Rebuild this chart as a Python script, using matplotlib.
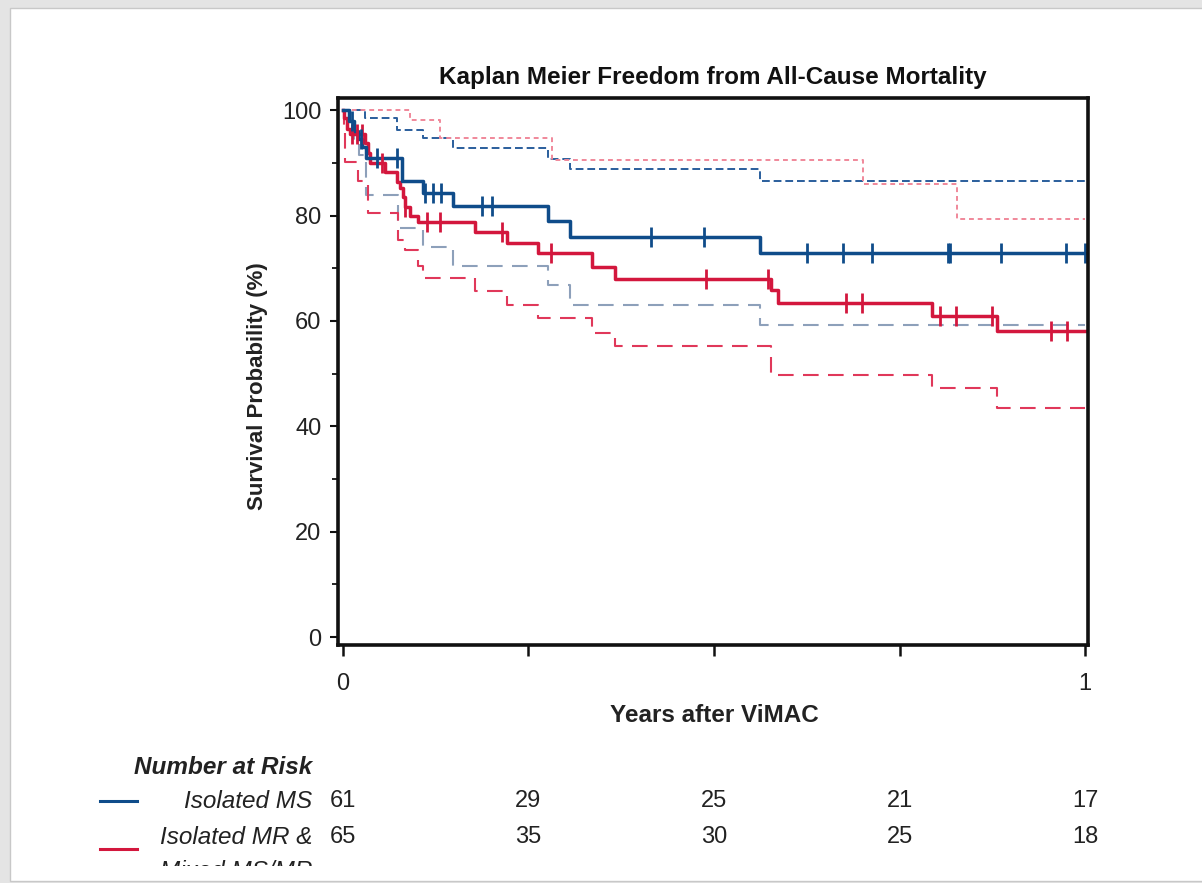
import numpy as np
import matplotlib
matplotlib.use("Agg")
import matplotlib.pyplot as plt
from matplotlib.patches import Rectangle
from matplotlib.transforms import blended_transform_factory

plt.rcParams['font.family'] = ['Liberation Sans', 'DejaVu Sans']

# ---------------- data ----------------
# Isolated MS (blue)
ms_t = [0, 0.008, 0.015, 0.020, 0.026, 0.031, 0.080, 0.108, 0.148, 0.276, 0.306, 0.562, 1.0]
ms_s = [100, 98, 96, 94.5, 93, 91, 86.6, 84.2, 81.8, 79.0, 76.0, 72.9, 72.9]
ms_cens = [0.012, 0.024, 0.046, 0.073, 0.110, 0.121, 0.132, 0.187, 0.201, 0.415, 0.487,
           0.625, 0.674, 0.713, 0.815, 0.818, 0.887, 0.974, 1.0]
ms_up_t = [0, 0.030, 0.073, 0.108, 0.148, 0.276, 0.306, 0.562, 1.0]
ms_up_s = [100, 98.5, 96.2, 94.7, 92.9, 90.8, 88.8, 86.5, 86.5]
ms_lo_t = [0, 0.008, 0.015, 0.022, 0.031, 0.074, 0.108, 0.148, 0.276, 0.306, 0.562, 1.0]
ms_lo_s = [100, 97, 94, 91.5, 83.9, 77.6, 74.0, 70.4, 66.8, 63.1, 59.3, 59.3]

# Isolated MR & Mixed MS/MR (red)
mr_t = [0, 0.001, 0.005, 0.009, 0.030, 0.034, 0.036, 0.057, 0.073, 0.077, 0.081, 0.084,
        0.090, 0.101, 0.178, 0.221, 0.263, 0.336, 0.367, 0.577, 0.586, 0.794, 0.881, 1.0]
mr_s = [100, 98.5, 96.5, 95.5, 93.7, 91.8, 89.9, 88.2, 86.3, 85.2, 83.5, 81.6,
        80.0, 78.8, 76.9, 74.8, 72.8, 70.3, 68.0, 65.8, 63.4, 60.9, 58.0, 58.0]
mr_cens = [0.012, 0.019, 0.026, 0.052, 0.084, 0.113, 0.131, 0.214, 0.280, 0.489, 0.573,
           0.678, 0.699, 0.804, 0.826, 0.875, 0.954, 0.976]
mr_up_t = [0, 0.090, 0.131, 0.282, 0.701, 0.827, 1.0]
mr_up_s = [100, 98.1, 94.8, 90.6, 86.0, 79.3, 79.3]
mr_lo_t = [0, 0.001, 0.003, 0.020, 0.034, 0.074, 0.084, 0.101, 0.108, 0.178, 0.221,
           0.263, 0.336, 0.367, 0.577, 0.794, 0.881, 1.0]
mr_lo_s = [100, 96, 90.2, 86.5, 80.4, 75.3, 73.4, 70.4, 68.2, 65.7, 63.0,
           60.5, 57.8, 55.2, 49.8, 47.2, 43.5, 43.5]

risk_times = [0, 0.25, 0.5, 0.75, 1.0]
risk_ms = [61, 29, 25, 21, 17]
risk_mr = [65, 35, 30, 25, 18]

x_ticks = [0, 0.25, 0.5, 0.75, 1.0]
x_ticklabels = ['0', '', '', '', '1']
y_ticks = [0, 20, 40, 60, 80, 100]

BLUE = '#0f4c8a'
RED = '#d3173d'
BLUE_UP = '#2a5e9c'
BLUE_LO = '#8da0ba'
RED_UP = '#f0889a'
RED_LO = '#e0385a'

W, H = 1202, 883
fig = plt.figure(figsize=(W / 100, H / 100), dpi=100)
fig.patch.set_facecolor('#e4e4e4')


def fx(px):
    return px / W


def fy(py):
    return 1 - py / H


page = Rectangle((fx(10), fy(881)), 1.0, fy(8) - fy(881), transform=fig.transFigure,
                 facecolor='white', edgecolor='#c8c8c8', linewidth=1.0, zorder=-10)
fig.patches.append(page)

ax = fig.add_axes([fx(338), fy(645), fx(1088) - fx(338), fy(98) - fy(645)])
ax.set_facecolor('white')


def step_val(t, s, x):
    i = np.searchsorted(t, x, side='right') - 1
    return np.asarray(s)[i]


# CIs
ax.step(ms_up_t, ms_up_s, where='post', color=BLUE_UP, lw=1.4, ls=(0, (4, 2)))
ax.step(mr_up_t, mr_up_s, where='post', color=RED_UP, lw=1.4, ls=(0, (2.5, 2)))
ax.step(ms_lo_t, ms_lo_s, where='post', color=BLUE_LO, lw=1.5, ls=(0, (7.5, 4.5)))
ax.step(mr_lo_t, mr_lo_s, where='post', color=RED_LO, lw=1.5, ls=(0, (7.5, 4.5)))

# main curves
ax.step(mr_t, mr_s, where='post', color=RED, lw=2.5)
ax.step(ms_t, ms_s, where='post', color=BLUE, lw=2.5)
ax.plot(mr_cens, step_val(mr_t, mr_s, mr_cens), ls='none', marker='|', ms=14, mew=2.0,
        color=RED, clip_on=False)
ax.plot(ms_cens, step_val(ms_t, ms_s, ms_cens), ls='none', marker='|', ms=14, mew=2.0,
        color=BLUE, clip_on=False)

ax.set_xlim(-0.0067, 1.004)
ax.set_ylim(-1.5, 102.3)
ax.set_xticks(x_ticks)
ax.set_xticklabels(x_ticklabels)
ax.set_yticks(y_ticks)
ax.set_yticks([10, 30, 50, 70, 90], minor=True)
for sp in ax.spines.values():
    sp.set_linewidth(2.6)
    sp.set_color('#111111')
ax.tick_params(axis='x', direction='out', length=8, width=1.8, labelsize=17, pad=12, colors='#111111')
ax.tick_params(axis='y', which='major', direction='out', length=6, width=1.5, labelsize=17, pad=6,
               colors='#111111')
ax.tick_params(axis='y', which='minor', direction='out', length=4, width=1.2)
for lab in ax.get_xticklabels() + ax.get_yticklabels():
    lab.set_color('#222222')

ax.set_title('Kaplan Meier Freedom from All-Cause Mortality', fontsize=17.5, fontweight='bold',
             pad=10, color='#111111')
fig.text(fx(257), fy(386), 'Survival Probability (%)', rotation=90, fontsize=16,
         fontweight='bold', ha='center', va='center', color='#222222')
fig.text(fx(714), fy(715), 'Years after ViMAC', fontsize=17.5, fontweight='bold',
         ha='center', va='center', color='#222222')

# Number at risk table
fig.text(fx(312), fy(768), 'Number at Risk', fontsize=17.5, fontweight='bold', style='italic',
         ha='right', va='center', color='#222222')
fig.text(fx(312), fy(801), 'Isolated MS', fontsize=17.5, style='italic', ha='right', va='center',
         color='#222222')
fig.text(fx(312), fy(837), 'Isolated MR &', fontsize=17.5, style='italic', ha='right', va='center',
         color='#222222')
clip = Rectangle((0, fy(866)), 1, 1, transform=fig.transFigure, visible=False)
fig.patches.append(clip)
t_mixed = fig.text(fx(312), fy(871), 'Mixed MS/MR', fontsize=17.5, style='italic', ha='right',
                   va='center', color='#222222')
t_mixed.set_clip_path(clip)
t_mixed.set_clip_on(True)

fig.add_artist(plt.Line2D([fx(100), fx(137)], [fy(801), fy(801)], transform=fig.transFigure,
                          color=BLUE, lw=2.2))
fig.add_artist(plt.Line2D([fx(100), fx(137)], [fy(849), fy(849)], transform=fig.transFigure,
                          color=RED, lw=2.2))

trans = blended_transform_factory(ax.transData, fig.transFigure)
for t, n1, n2 in zip(risk_times, risk_ms, risk_mr):
    ax.text(t, fy(801), str(n1), transform=trans, fontsize=17, ha='center', va='center',
            color='#222222', clip_on=False)
    ax.text(t, fy(837), str(n2), transform=trans, fontsize=17, ha='center', va='center',
            color='#222222', clip_on=False)

fig.savefig('out.png', dpi=100, facecolor=fig.get_facecolor())
